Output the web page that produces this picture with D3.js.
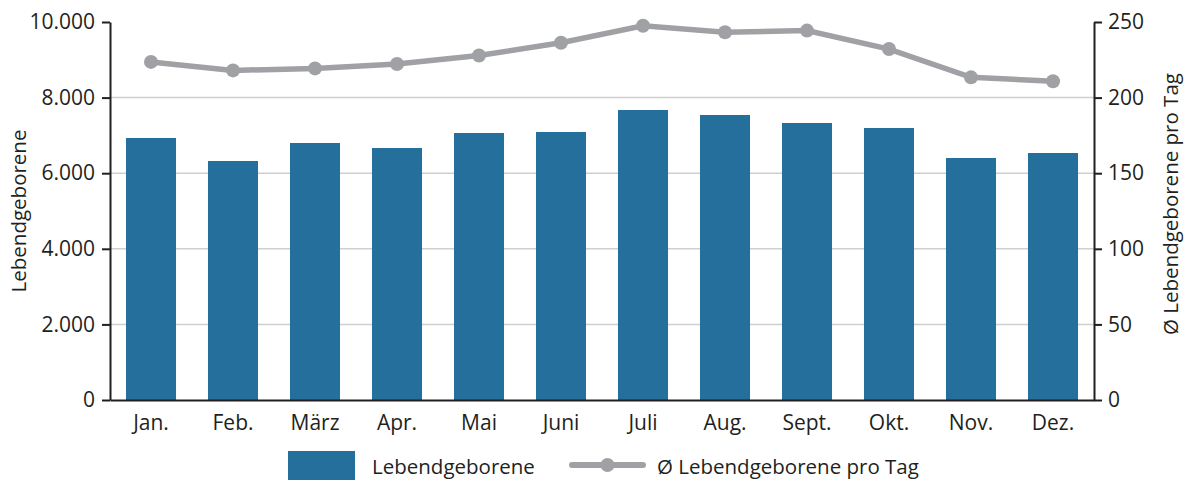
<!DOCTYPE html>
<html lang="de">
<head>
	<meta charset="utf-8">
	<style>
		body { margin: 0; background: white; }
		svg { font-family: 'Open Sans', sans-serif; }
		.axis text { fill: #231f20; font-size: 21px; font-family: 'Open Sans', sans-serif; }
		.axis path, .axis line { stroke: #231f20; stroke-width: 2px; }
		.grid line { stroke: #cfcfcf; stroke-width: 1.5px; }
		.title { fill: #231f20; font-size: 20.5px; }
	</style>
</head>
<body>
	<svg width="1184" height="480"></svg>
	<script src="https://cdn.jsdelivr.net/npm/d3@7"></script>
	<script>
		// data
		const months = ["Jan.", "Feb.", "März", "Apr.", "Mai", "Juni", "Juli", "Aug.", "Sept.", "Okt.", "Nov.", "Dez."];
		const births = [6931, 6323, 6799, 6667, 7063, 7090, 7672, 7540, 7328, 7196, 6402, 6534];
		const perDay = [223.6, 218.0, 219.3, 222.2, 227.8, 236.3, 247.5, 243.2, 244.3, 232.1, 213.4, 210.8];
		const leftTicks = [0, 2000, 4000, 6000, 8000, 10000];
		const rightTicks = [0, 50, 100, 150, 200, 250];

		const barColor = "#246f9c";
		const lineColor = "#a0a1a5";

		const width = 1184;
		const height = 480;
		const margin = { top: 22, right: 90, bottom: 80, left: 110 };

		const svg = d3.select("svg");

		const de = d3.formatLocale({ decimal: ",", thousands: ".", grouping: [3], currency: ["", " €"] });

		const x = d3.scaleBand()
			.domain(months)
			.range([margin.left, width - margin.right])
			.paddingInner(0.39)
			.paddingOuter(0.195);

		const yL = d3.scaleLinear().domain([0, 10000]).range([height - margin.bottom, margin.top]);
		const yR = d3.scaleLinear().domain([0, 250]).range([height - margin.bottom, margin.top]);

		// gridlines
		svg.append("g")
			.attr("class", "grid")
			.selectAll("line")
			.data(leftTicks.filter(d => d > 0 && d < 10000))
			.join("line")
			.attr("x1", margin.left)
			.attr("x2", width - margin.right)
			.attr("y1", d => yL(d))
			.attr("y2", d => yL(d));

		// bars
		svg.append("g")
			.selectAll("rect")
			.data(births)
			.join("rect")
			.attr("x", (d, i) => x(months[i]))
			.attr("y", d => yL(d))
			.attr("width", x.bandwidth())
			.attr("height", d => yL(0) - yL(d))
			.attr("fill", barColor);

		// axes
		svg.append("g")
			.attr("class", "axis")
			.attr("transform", "translate(" + margin.left + ",0)")
			.call(d3.axisLeft(yL).tickValues(leftTicks).tickFormat(de.format(",d")).tickSize(8).tickSizeOuter(0).tickPadding(7));

		svg.append("g")
			.attr("class", "axis")
			.attr("transform", "translate(" + (width - margin.right) + ",0)")
			.call(d3.axisRight(yR).tickValues(rightTicks).tickSize(8).tickSizeOuter(0).tickPadding(6));

		svg.append("g")
			.attr("class", "axis")
			.attr("transform", "translate(0," + (height - margin.bottom) + ")")
			.call(d3.axisBottom(x).tickSize(0).tickSizeOuter(0).tickPadding(15));

		// line
		const line = d3.line()
			.x((d, i) => x(months[i]) + x.bandwidth() / 2)
			.y(d => yR(d));

		svg.append("path")
			.datum(perDay)
			.attr("d", line)
			.attr("fill", "none")
			.attr("stroke", lineColor)
			.attr("stroke-width", 5.5);

		svg.append("g")
			.selectAll("circle")
			.data(perDay)
			.join("circle")
			.attr("cx", (d, i) => x(months[i]) + x.bandwidth() / 2)
			.attr("cy", d => yR(d))
			.attr("r", 7)
			.attr("fill", lineColor);

		// axis titles
		svg.append("text")
			.attr("class", "title")
			.attr("transform", "translate(26,211) rotate(-90)")
			.attr("text-anchor", "middle")
			.text("Lebendgeborene");

		svg.append("text")
			.attr("class", "title")
			.attr("transform", "translate(1178,204) rotate(-90)")
			.attr("text-anchor", "middle")
			.text("Ø Lebendgeborene pro Tag");

		// legend (kept just inside the bottom edge)
		const legend = svg.append("g");
		legend.append("rect")
			.attr("x", 288).attr("y", 451)
			.attr("width", 67).attr("height", 32)
			.attr("fill", barColor);
		legend.append("text")
			.attr("class", "title")
			.attr("x", 372).attr("y", 474)
			.text("Lebendgeborene");
		legend.append("line")
			.attr("x1", 572).attr("x2", 643)
			.attr("y1", 465).attr("y2", 465)
			.attr("stroke", lineColor)
			.attr("stroke-width", 6)
			.attr("stroke-linecap", "round");
		legend.append("circle")
			.attr("cx", 607.5).attr("cy", 465).attr("r", 7)
			.attr("fill", lineColor);
		legend.append("text")
			.attr("class", "title")
			.attr("x", 657).attr("y", 474)
			.text("Ø Lebendgeborene pro Tag");
	</script>
</body>
</html>
